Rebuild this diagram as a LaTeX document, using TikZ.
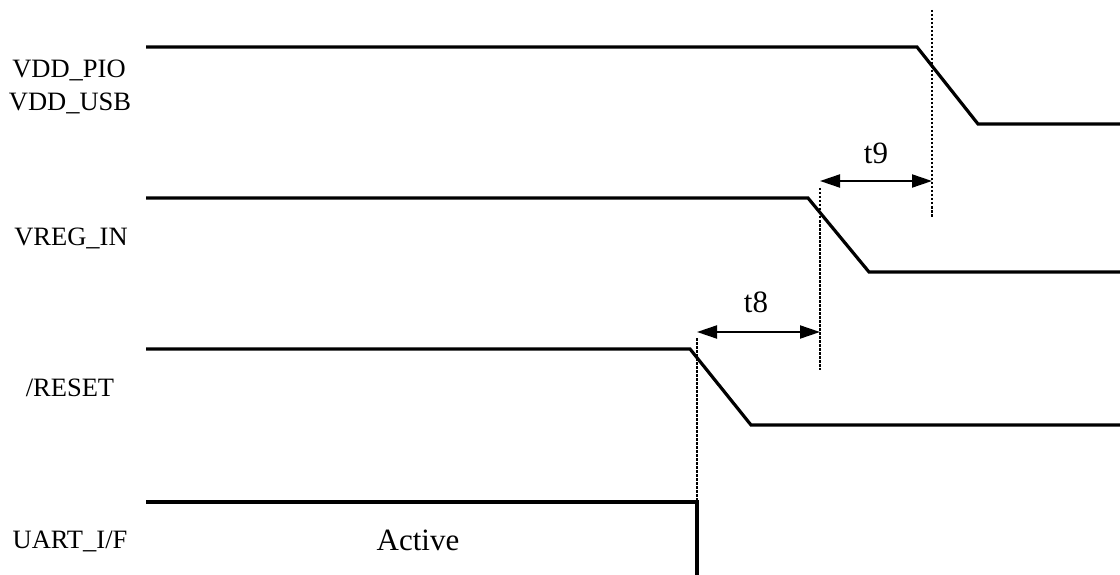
\documentclass[tikz,border=0pt]{standalone}
\usepackage{fontspec}
\setmainfont{Liberation Serif}
\usetikzlibrary{arrows.meta}
\begin{document}
\begin{tikzpicture}[x=1pt,y=-1pt,
  signal/.style={line width=3.2pt,line join=miter},
  marker/.style={line width=1.8pt,dash pattern=on 2.5pt off 1.5pt},
  interval/.style={line width=2pt,{Triangle[length=20pt,width=13pt]}-{Triangle[length=20pt,width=13pt]}},
  siglabel/.style={font=\fontsize{26.5}{32}\selectfont,anchor=base,inner sep=0pt},
  timelabel/.style={font=\fontsize{31}{34}\selectfont,anchor=base,inner sep=0pt}]
\useasboundingbox (0,0) rectangle (1120,575);
% VDD
\coordinate (v0) at (146,47);
\coordinate (v1) at (917,47);
\coordinate (v2) at (978,124);
\coordinate (v3) at (1120,124);
\draw[signal] (v0) -- (v1) -- (v2) -- (v3);
% VREG
\coordinate (r0) at (146,198);
\coordinate (r1) at (808,198);
\coordinate (r2) at (869,272);
\coordinate (r3) at (1120,272);
\draw[signal] (r0) -- (r1) -- (r2) -- (r3);
% RESET
\coordinate (s0) at (146,349);
\coordinate (s1) at (690,349);
\coordinate (s2) at (751,425);
\coordinate (s3) at (1120,425);
\draw[signal] (s0) -- (s1) -- (s2) -- (s3);
% UART
\coordinate (u0) at (146,502);
\coordinate (u1) at (697,502);
\coordinate (u2) at (697,575);
\draw[signal] (u0) -- (u1) -- (u2);
% markers
\coordinate (m9t) at (932,10);
\coordinate (m9b) at (932,218);
\coordinate (m8t) at (820,188);
\coordinate (m8b) at (820,370);
\coordinate (m7t) at (697,338);
\draw[marker] (m9t) -- (m9b);
\draw[marker] (m8t) -- (m8b);
\draw[marker] (m7t) -- (u1);
% intervals
\coordinate (a9l) at (820,181);
\coordinate (a9r) at (932,181);
\coordinate (a8l) at (697,332);
\coordinate (a8r) at (820,332);
\draw[interval] (a9l) -- (a9r);
\draw[interval] (a8l) -- (a8r);
\node[timelabel] (t9) at (876,164) {t9};
\node[timelabel] (t8) at (756,312) {t8};
% labels
\node[siglabel] (lpio) at (69,78) {VDD\_PIO};
\node[siglabel] (lusb) at (70,111) {VDD\_USB};
\node[siglabel] (lreg) at (71,245) {VREG\_IN};
\node[siglabel] (lrst) at (70,396) {/RESET};
\node[siglabel] (luart) at (70,548) {UART\_I/F};
\node[timelabel] (act) at (418,550) {Active};
\end{tikzpicture}
\end{document}
